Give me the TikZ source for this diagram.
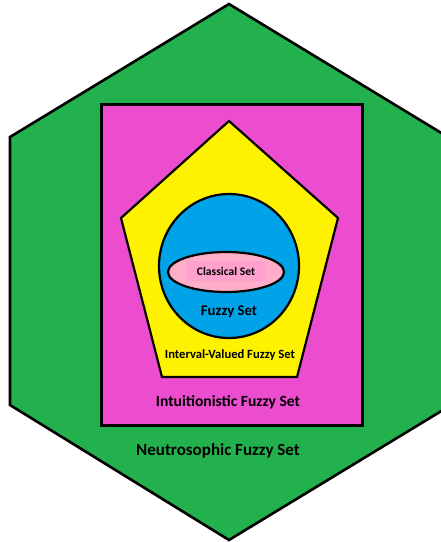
\documentclass[tikz,border=0pt]{standalone}
\usepackage{fontspec}
\setmainfont{Carlito}
\definecolor{neutgreen}{RGB}{34,177,76}
\definecolor{intumagenta}{RGB}{236,76,206}
\definecolor{ivyellow}{RGB}{255,242,0}
\definecolor{fuzzyblue}{RGB}{0,162,232}
\definecolor{classpink}{RGB}{255,174,201}
\definecolor{labelpink}{RGB}{255,160,205}

\begin{document}
\begin{tikzpicture}[x=1pt,y=-1pt,line join=miter]
\useasboundingbox (0,0) rectangle (441,542);
\clip (0,0) rectangle (441,542);
\tikzset{setlabel/.style={font=\bfseries\fontsize{#1}{#1}\selectfont,inner sep=1pt}}
% outer sets
\draw[fill=neutgreen,line width=2.6] (229,4) -- (448,137) -- (448,407) -- (229,540)
  -- (10,405) -- (10,137) -- cycle;
\draw[fill=intumagenta,line width=3] (101,104) rectangle (362,425);
\draw[fill=ivyellow,line width=2.2] (229,121) -- (338,218) -- (297,377) -- (162,377)
  -- (121,218) -- cycle;
% inner sets
\draw[fill=fuzzyblue,line width=2.2] (229,266) ellipse (70 and 72);
\draw[fill=classpink,line width=2.2] (226,272) ellipse (58 and 20);
\node[setlabel=11.6,fill=labelpink,minimum width=78,minimum height=20] (classical) at (226,271) {Classical Set};
\node[setlabel=14.8] (fuzzy) at (229,312) {Fuzzy Set};
\node[setlabel=12.6] (interval) at (230,355) {Interval-Valued Fuzzy Set};
\node[setlabel=15.6] (intuit) at (228,402) {Intuitionistic Fuzzy Set};
\node[setlabel=17] (neutro) at (218,451) {Neutrosophic Fuzzy Set};
\end{tikzpicture}
\end{document}
